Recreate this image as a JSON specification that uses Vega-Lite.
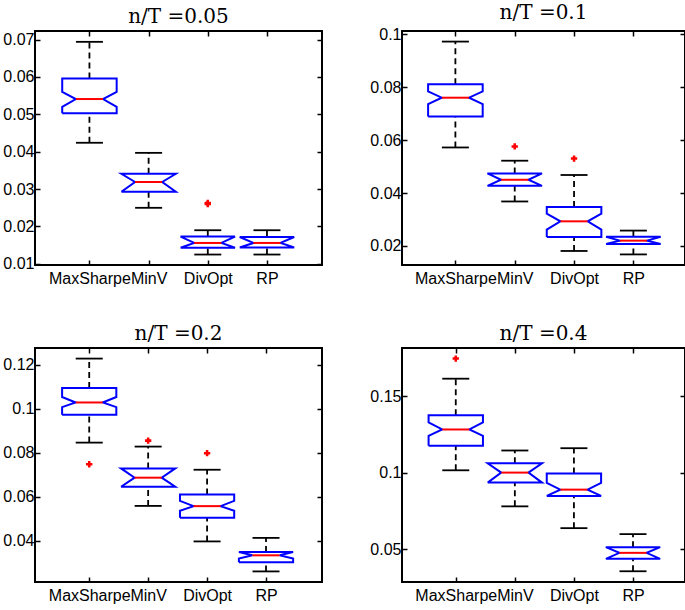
{
  "$schema": "https://vega.github.io/schema/vega-lite/v6.json",
  "background": "white",
  "padding": {"left": 1, "top": 2, "right": 0, "bottom": 0},
  "spacing": 36,
  "datasets": {
    "stats": [
      {"panel": "0.05", "method": "MaxSharpe", "lo": 0.0424, "q1": 0.0503, "nlo": 0.0520, "med": 0.0541, "nhi": 0.0560, "q3": 0.0596, "hi": 0.0694},
      {"panel": "0.05", "method": "MinV", "lo": 0.0250, "q1": 0.0293, "nlo": 0.0293, "med": 0.0319, "nhi": 0.0341, "q3": 0.0341, "hi": 0.0397},
      {"panel": "0.05", "method": "DivOpt", "lo": 0.0125, "q1": 0.0143, "nlo": 0.0143, "med": 0.0156, "nhi": 0.0173, "q3": 0.0173, "hi": 0.0190},
      {"panel": "0.05", "method": "RP", "lo": 0.0125, "q1": 0.0144, "nlo": 0.0144, "med": 0.0156, "nhi": 0.0172, "q3": 0.0172, "hi": 0.0190},
      {"panel": "0.1", "method": "MaxSharpe", "lo": 0.0572, "q1": 0.0689, "nlo": 0.0736, "med": 0.0760, "nhi": 0.0784, "q3": 0.0811, "hi": 0.0972},
      {"panel": "0.1", "method": "MinV", "lo": 0.0368, "q1": 0.0427, "nlo": 0.0427, "med": 0.0450, "nhi": 0.0474, "q3": 0.0474, "hi": 0.0522},
      {"panel": "0.1", "method": "DivOpt", "lo": 0.0181, "q1": 0.0234, "nlo": 0.0262, "med": 0.0293, "nhi": 0.0322, "q3": 0.0347, "hi": 0.0468},
      {"panel": "0.1", "method": "RP", "lo": 0.0168, "q1": 0.0207, "nlo": 0.0207, "med": 0.0220, "nhi": 0.0235, "q3": 0.0235, "hi": 0.0258},
      {"panel": "0.2", "method": "MaxSharpe", "lo": 0.0846, "q1": 0.0972, "nlo": 0.1007, "med": 0.1028, "nhi": 0.1053, "q3": 0.1094, "hi": 0.1227},
      {"panel": "0.2", "method": "MinV", "lo": 0.0559, "q1": 0.0646, "nlo": 0.0646, "med": 0.0687, "nhi": 0.0729, "q3": 0.0729, "hi": 0.0828},
      {"panel": "0.2", "method": "DivOpt", "lo": 0.0398, "q1": 0.0505, "nlo": 0.0537, "med": 0.0558, "nhi": 0.0582, "q3": 0.0611, "hi": 0.0723},
      {"panel": "0.2", "method": "RP", "lo": 0.0262, "q1": 0.0304, "nlo": 0.0320, "med": 0.0335, "nhi": 0.0350, "q3": 0.0350, "hi": 0.0414},
      {"panel": "0.4", "method": "MaxSharpe", "lo": 0.1016, "q1": 0.1176, "nlo": 0.1241, "med": 0.1282, "nhi": 0.1328, "q3": 0.1374, "hi": 0.1613},
      {"panel": "0.4", "method": "MinV", "lo": 0.0781, "q1": 0.0936, "nlo": 0.0936, "med": 0.1001, "nhi": 0.1062, "q3": 0.1062, "hi": 0.1145},
      {"panel": "0.4", "method": "DivOpt", "lo": 0.0639, "q1": 0.0849, "nlo": 0.0849, "med": 0.0890, "nhi": 0.0934, "q3": 0.0995, "hi": 0.1160},
      {"panel": "0.4", "method": "RP", "lo": 0.0358, "q1": 0.0439, "nlo": 0.0439, "med": 0.0478, "nhi": 0.0515, "q3": 0.0515, "hi": 0.0600}
    ],
    "outliers": [
      {"panel": "0.05", "method": "DivOpt", "value": 0.0260},
      {"panel": "0.05", "method": "DivOpt", "value": 0.0263},
      {"panel": "0.1", "method": "MinV", "value": 0.0576},
      {"panel": "0.1", "method": "DivOpt", "value": 0.0530},
      {"panel": "0.2", "method": "MaxSharpe", "value": 0.0748},
      {"panel": "0.2", "method": "MinV", "value": 0.0855},
      {"panel": "0.2", "method": "DivOpt", "value": 0.0798},
      {"panel": "0.4", "method": "MaxSharpe", "value": 0.1744}
    ]
  },
  "vconcat": [
    {
      "spacing": 44,
      "hconcat": [
        {
          "title": "n/T =0.05",
          "width": 287, "height": 234,
          "data": {"name": "stats"},
          "transform": [{"filter": "datum.panel === '0.05'"}, {"calculate": "indexof(['MaxSharpe','MinV','DivOpt','RP'], datum.method) + 1", "as": "pos"}],
          "resolve": {"axis": {"x": "independent", "y": "independent"}},
          "layer": [
            {"mark": {"type": "rule", "color": "black", "strokeWidth": 1.8, "strokeDash": [6, 4]},
             "encoding": {
               "x": {"field": "pos", "type": "quantitative", "scale": {"domain": [0.08, 4.93]}, "axis": {"orient": "bottom", "values": [1, 2, 3, 4], "labelExpr": "datum.value == 1 ? 'MaxSharpe' : datum.value == 2 ? 'MinV' : datum.value == 3 ? 'DivOpt' : 'RP'", "labelFlush": false, "labelOverlap": false, "labelPadding": 10}},
               "y": {"field": "q3", "type": "quantitative", "scale": {"domain": [0.0097, 0.0723]}, "axis": {"orient": "left", "values": [0.01, 0.02, 0.03, 0.04, 0.05, 0.06, 0.07], "format": "~g"}},
               "y2": {"field": "hi"}}},
            {"mark": {"type": "rule", "color": "black", "strokeWidth": 1.8, "strokeDash": [6, 4]},
             "encoding": {
               "x": {"field": "pos", "type": "quantitative", "scale": {"domain": [0.08, 4.93]}, "axis": {"orient": "top", "values": [1, 2, 3, 4], "labels": false}},
               "y": {"field": "lo", "type": "quantitative", "scale": {"domain": [0.0097, 0.0723]}, "axis": {"orient": "right", "values": [0.01, 0.02, 0.03, 0.04, 0.05, 0.06, 0.07], "labels": false}},
               "y2": {"field": "q1"}}},
            {"mark": {"type": "tick", "color": "black", "opacity": 1, "size": 27, "thickness": 1.8, "orient": "horizontal"},
             "encoding": {"x": {"field": "pos", "type": "quantitative", "scale": {"domain": [0.08, 4.93]}, "axis": null}, "y": {"field": "hi", "type": "quantitative", "scale": {"domain": [0.0097, 0.0723]}, "axis": null}}},
            {"mark": {"type": "tick", "color": "black", "opacity": 1, "size": 27, "thickness": 1.8, "orient": "horizontal"},
             "encoding": {"x": {"field": "pos", "type": "quantitative", "scale": {"domain": [0.08, 4.93]}, "axis": null}, "y": {"field": "lo", "type": "quantitative", "scale": {"domain": [0.0097, 0.0723]}, "axis": null}}},
            {"transform": [
               {"calculate": "[datum.pos-0.46, datum.pos-0.46, datum.pos-0.23, datum.pos-0.46, datum.pos-0.46, datum.pos+0.46, datum.pos+0.46, datum.pos+0.23, datum.pos+0.46, datum.pos+0.46, datum.pos-0.46]", "as": "vx"},
               {"calculate": "[datum.q1, datum.nlo, datum.med, datum.nhi, datum.q3, datum.q3, datum.nhi, datum.med, datum.nlo, datum.q1, datum.q1]", "as": "vy"},
               {"calculate": "[0,1,2,3,4,5,6,7,8,9,10]", "as": "vi"},
               {"flatten": ["vx", "vy", "vi"]}],
             "mark": {"type": "line", "color": "#0000ff", "strokeWidth": 2, "strokeJoin": "miter"},
             "encoding": {"x": {"field": "vx", "type": "quantitative", "scale": {"domain": [0.08, 4.93]}, "axis": null}, "y": {"field": "vy", "type": "quantitative", "scale": {"domain": [0.0097, 0.0723]}, "axis": null}, "order": {"field": "vi"}, "detail": {"field": "method"}}},
            {"mark": {"type": "tick", "color": "#ff0000", "opacity": 1, "size": 27, "thickness": 2, "orient": "horizontal"},
             "encoding": {"x": {"field": "pos", "type": "quantitative", "scale": {"domain": [0.08, 4.93]}, "axis": null}, "y": {"field": "med", "type": "quantitative", "scale": {"domain": [0.0097, 0.0723]}, "axis": null}}},
            {"data": {"name": "outliers"},
             "transform": [{"filter": "datum.panel === '0.05'"}, {"calculate": "indexof(['MaxSharpe','MinV','DivOpt','RP'], datum.method) + 1", "as": "pos"}],
             "mark": {"type": "point", "shape": "cross", "filled": true, "color": "#ff0000", "size": 40, "opacity": 1},
             "encoding": {"x": {"field": "pos", "type": "quantitative", "scale": {"domain": [0.08, 4.93]}, "axis": null}, "y": {"field": "value", "type": "quantitative", "scale": {"domain": [0.0097, 0.0723]}, "axis": null}}}
          ]
        },
        {
          "title": "n/T =0.1",
          "width": 283, "height": 234,
          "data": {"name": "stats"},
          "transform": [{"filter": "datum.panel === '0.1'"}, {"calculate": "indexof(['MaxSharpe','MinV','DivOpt','RP'], datum.method) + 1", "as": "pos"}],
          "resolve": {"axis": {"x": "independent", "y": "independent"}},
          "layer": [
            {"mark": {"type": "rule", "color": "black", "strokeWidth": 1.8, "strokeDash": [6, 4]},
             "encoding": {
               "x": {"field": "pos", "type": "quantitative", "scale": {"domain": [0.1, 4.87]}, "axis": {"orient": "bottom", "values": [1, 2, 3, 4], "labelExpr": "datum.value == 1 ? 'MaxSharpe' : datum.value == 2 ? 'MinV' : datum.value == 3 ? 'DivOpt' : 'RP'", "labelFlush": false, "labelOverlap": false, "labelPadding": 10}},
               "y": {"field": "q3", "type": "quantitative", "scale": {"domain": [0.0128, 0.1012]}, "axis": {"orient": "left", "values": [0.02, 0.04, 0.06, 0.08, 0.1], "format": "~g"}},
               "y2": {"field": "hi"}}},
            {"mark": {"type": "rule", "color": "black", "strokeWidth": 1.8, "strokeDash": [6, 4]},
             "encoding": {
               "x": {"field": "pos", "type": "quantitative", "scale": {"domain": [0.1, 4.87]}, "axis": {"orient": "top", "values": [1, 2, 3, 4], "labels": false}},
               "y": {"field": "lo", "type": "quantitative", "scale": {"domain": [0.0128, 0.1012]}, "axis": {"orient": "right", "values": [0.02, 0.04, 0.06, 0.08, 0.1], "labels": false}},
               "y2": {"field": "q1"}}},
            {"mark": {"type": "tick", "color": "black", "opacity": 1, "size": 27, "thickness": 1.8, "orient": "horizontal"},
             "encoding": {"x": {"field": "pos", "type": "quantitative", "scale": {"domain": [0.1, 4.87]}, "axis": null}, "y": {"field": "hi", "type": "quantitative", "scale": {"domain": [0.0128, 0.1012]}, "axis": null}}},
            {"mark": {"type": "tick", "color": "black", "opacity": 1, "size": 27, "thickness": 1.8, "orient": "horizontal"},
             "encoding": {"x": {"field": "pos", "type": "quantitative", "scale": {"domain": [0.1, 4.87]}, "axis": null}, "y": {"field": "lo", "type": "quantitative", "scale": {"domain": [0.0128, 0.1012]}, "axis": null}}},
            {"transform": [
               {"calculate": "[datum.pos-0.46, datum.pos-0.46, datum.pos-0.23, datum.pos-0.46, datum.pos-0.46, datum.pos+0.46, datum.pos+0.46, datum.pos+0.23, datum.pos+0.46, datum.pos+0.46, datum.pos-0.46]", "as": "vx"},
               {"calculate": "[datum.q1, datum.nlo, datum.med, datum.nhi, datum.q3, datum.q3, datum.nhi, datum.med, datum.nlo, datum.q1, datum.q1]", "as": "vy"},
               {"calculate": "[0,1,2,3,4,5,6,7,8,9,10]", "as": "vi"},
               {"flatten": ["vx", "vy", "vi"]}],
             "mark": {"type": "line", "color": "#0000ff", "strokeWidth": 2, "strokeJoin": "miter"},
             "encoding": {"x": {"field": "vx", "type": "quantitative", "scale": {"domain": [0.1, 4.87]}, "axis": null}, "y": {"field": "vy", "type": "quantitative", "scale": {"domain": [0.0128, 0.1012]}, "axis": null}, "order": {"field": "vi"}, "detail": {"field": "method"}}},
            {"mark": {"type": "tick", "color": "#ff0000", "opacity": 1, "size": 27, "thickness": 2, "orient": "horizontal"},
             "encoding": {"x": {"field": "pos", "type": "quantitative", "scale": {"domain": [0.1, 4.87]}, "axis": null}, "y": {"field": "med", "type": "quantitative", "scale": {"domain": [0.0128, 0.1012]}, "axis": null}}},
            {"data": {"name": "outliers"},
             "transform": [{"filter": "datum.panel === '0.1'"}, {"calculate": "indexof(['MaxSharpe','MinV','DivOpt','RP'], datum.method) + 1", "as": "pos"}],
             "mark": {"type": "point", "shape": "cross", "filled": true, "color": "#ff0000", "size": 40, "opacity": 1},
             "encoding": {"x": {"field": "pos", "type": "quantitative", "scale": {"domain": [0.1, 4.87]}, "axis": null}, "y": {"field": "value", "type": "quantitative", "scale": {"domain": [0.0128, 0.1012]}, "axis": null}}}
          ]
        }
      ]
    },
    {
      "spacing": 44,
      "hconcat": [
        {
          "title": "n/T =0.2",
          "width": 287, "height": 234,
          "data": {"name": "stats"},
          "transform": [{"filter": "datum.panel === '0.2'"}, {"calculate": "indexof(['MaxSharpe','MinV','DivOpt','RP'], datum.method) + 1", "as": "pos"}],
          "resolve": {"axis": {"x": "independent", "y": "independent"}},
          "layer": [
            {"mark": {"type": "rule", "color": "black", "strokeWidth": 1.8, "strokeDash": [6, 4]},
             "encoding": {
               "x": {"field": "pos", "type": "quantitative", "scale": {"domain": [0.08, 4.95]}, "axis": {"orient": "bottom", "values": [1, 2, 3, 4], "labelExpr": "datum.value == 1 ? 'MaxSharpe' : datum.value == 2 ? 'MinV' : datum.value == 3 ? 'DivOpt' : 'RP'", "labelFlush": false, "labelOverlap": false, "labelPadding": 10}},
               "y": {"field": "q3", "type": "quantitative", "scale": {"domain": [0.0214, 0.1275]}, "axis": {"orient": "left", "values": [0.04, 0.06, 0.08, 0.1, 0.12], "format": "~g"}},
               "y2": {"field": "hi"}}},
            {"mark": {"type": "rule", "color": "black", "strokeWidth": 1.8, "strokeDash": [6, 4]},
             "encoding": {
               "x": {"field": "pos", "type": "quantitative", "scale": {"domain": [0.08, 4.95]}, "axis": {"orient": "top", "values": [1, 2, 3, 4], "labels": false}},
               "y": {"field": "lo", "type": "quantitative", "scale": {"domain": [0.0214, 0.1275]}, "axis": {"orient": "right", "values": [0.04, 0.06, 0.08, 0.1, 0.12], "labels": false}},
               "y2": {"field": "q1"}}},
            {"mark": {"type": "tick", "color": "black", "opacity": 1, "size": 27, "thickness": 1.8, "orient": "horizontal"},
             "encoding": {"x": {"field": "pos", "type": "quantitative", "scale": {"domain": [0.08, 4.95]}, "axis": null}, "y": {"field": "hi", "type": "quantitative", "scale": {"domain": [0.0214, 0.1275]}, "axis": null}}},
            {"mark": {"type": "tick", "color": "black", "opacity": 1, "size": 27, "thickness": 1.8, "orient": "horizontal"},
             "encoding": {"x": {"field": "pos", "type": "quantitative", "scale": {"domain": [0.08, 4.95]}, "axis": null}, "y": {"field": "lo", "type": "quantitative", "scale": {"domain": [0.0214, 0.1275]}, "axis": null}}},
            {"transform": [
               {"calculate": "[datum.pos-0.46, datum.pos-0.46, datum.pos-0.23, datum.pos-0.46, datum.pos-0.46, datum.pos+0.46, datum.pos+0.46, datum.pos+0.23, datum.pos+0.46, datum.pos+0.46, datum.pos-0.46]", "as": "vx"},
               {"calculate": "[datum.q1, datum.nlo, datum.med, datum.nhi, datum.q3, datum.q3, datum.nhi, datum.med, datum.nlo, datum.q1, datum.q1]", "as": "vy"},
               {"calculate": "[0,1,2,3,4,5,6,7,8,9,10]", "as": "vi"},
               {"flatten": ["vx", "vy", "vi"]}],
             "mark": {"type": "line", "color": "#0000ff", "strokeWidth": 2, "strokeJoin": "miter"},
             "encoding": {"x": {"field": "vx", "type": "quantitative", "scale": {"domain": [0.08, 4.95]}, "axis": null}, "y": {"field": "vy", "type": "quantitative", "scale": {"domain": [0.0214, 0.1275]}, "axis": null}, "order": {"field": "vi"}, "detail": {"field": "method"}}},
            {"mark": {"type": "tick", "color": "#ff0000", "opacity": 1, "size": 27, "thickness": 2, "orient": "horizontal"},
             "encoding": {"x": {"field": "pos", "type": "quantitative", "scale": {"domain": [0.08, 4.95]}, "axis": null}, "y": {"field": "med", "type": "quantitative", "scale": {"domain": [0.0214, 0.1275]}, "axis": null}}},
            {"data": {"name": "outliers"},
             "transform": [{"filter": "datum.panel === '0.2'"}, {"calculate": "indexof(['MaxSharpe','MinV','DivOpt','RP'], datum.method) + 1", "as": "pos"}],
             "mark": {"type": "point", "shape": "cross", "filled": true, "color": "#ff0000", "size": 40, "opacity": 1},
             "encoding": {"x": {"field": "pos", "type": "quantitative", "scale": {"domain": [0.08, 4.95]}, "axis": null}, "y": {"field": "value", "type": "quantitative", "scale": {"domain": [0.0214, 0.1275]}, "axis": null}}}
          ]
        },
        {
          "title": "n/T =0.4",
          "width": 283, "height": 234,
          "data": {"name": "stats"},
          "transform": [{"filter": "datum.panel === '0.4'"}, {"calculate": "indexof(['MaxSharpe','MinV','DivOpt','RP'], datum.method) + 1", "as": "pos"}],
          "resolve": {"axis": {"x": "independent", "y": "independent"}},
          "layer": [
            {"mark": {"type": "rule", "color": "black", "strokeWidth": 1.8, "strokeDash": [6, 4]},
             "encoding": {
               "x": {"field": "pos", "type": "quantitative", "scale": {"domain": [0.09, 4.88]}, "axis": {"orient": "bottom", "values": [1, 2, 3, 4], "labelExpr": "datum.value == 1 ? 'MaxSharpe' : datum.value == 2 ? 'MinV' : datum.value == 3 ? 'DivOpt' : 'RP'", "labelFlush": false, "labelOverlap": false, "labelPadding": 10}},
               "y": {"field": "q3", "type": "quantitative", "scale": {"domain": [0.0288, 0.1813]}, "axis": {"orient": "left", "values": [0.05, 0.1, 0.15], "format": "~g"}},
               "y2": {"field": "hi"}}},
            {"mark": {"type": "rule", "color": "black", "strokeWidth": 1.8, "strokeDash": [6, 4]},
             "encoding": {
               "x": {"field": "pos", "type": "quantitative", "scale": {"domain": [0.09, 4.88]}, "axis": {"orient": "top", "values": [1, 2, 3, 4], "labels": false}},
               "y": {"field": "lo", "type": "quantitative", "scale": {"domain": [0.0288, 0.1813]}, "axis": {"orient": "right", "values": [0.05, 0.1, 0.15], "labels": false}},
               "y2": {"field": "q1"}}},
            {"mark": {"type": "tick", "color": "black", "opacity": 1, "size": 27, "thickness": 1.8, "orient": "horizontal"},
             "encoding": {"x": {"field": "pos", "type": "quantitative", "scale": {"domain": [0.09, 4.88]}, "axis": null}, "y": {"field": "hi", "type": "quantitative", "scale": {"domain": [0.0288, 0.1813]}, "axis": null}}},
            {"mark": {"type": "tick", "color": "black", "opacity": 1, "size": 27, "thickness": 1.8, "orient": "horizontal"},
             "encoding": {"x": {"field": "pos", "type": "quantitative", "scale": {"domain": [0.09, 4.88]}, "axis": null}, "y": {"field": "lo", "type": "quantitative", "scale": {"domain": [0.0288, 0.1813]}, "axis": null}}},
            {"transform": [
               {"calculate": "[datum.pos-0.46, datum.pos-0.46, datum.pos-0.23, datum.pos-0.46, datum.pos-0.46, datum.pos+0.46, datum.pos+0.46, datum.pos+0.23, datum.pos+0.46, datum.pos+0.46, datum.pos-0.46]", "as": "vx"},
               {"calculate": "[datum.q1, datum.nlo, datum.med, datum.nhi, datum.q3, datum.q3, datum.nhi, datum.med, datum.nlo, datum.q1, datum.q1]", "as": "vy"},
               {"calculate": "[0,1,2,3,4,5,6,7,8,9,10]", "as": "vi"},
               {"flatten": ["vx", "vy", "vi"]}],
             "mark": {"type": "line", "color": "#0000ff", "strokeWidth": 2, "strokeJoin": "miter"},
             "encoding": {"x": {"field": "vx", "type": "quantitative", "scale": {"domain": [0.09, 4.88]}, "axis": null}, "y": {"field": "vy", "type": "quantitative", "scale": {"domain": [0.0288, 0.1813]}, "axis": null}, "order": {"field": "vi"}, "detail": {"field": "method"}}},
            {"mark": {"type": "tick", "color": "#ff0000", "opacity": 1, "size": 27, "thickness": 2, "orient": "horizontal"},
             "encoding": {"x": {"field": "pos", "type": "quantitative", "scale": {"domain": [0.09, 4.88]}, "axis": null}, "y": {"field": "med", "type": "quantitative", "scale": {"domain": [0.0288, 0.1813]}, "axis": null}}},
            {"data": {"name": "outliers"},
             "transform": [{"filter": "datum.panel === '0.4'"}, {"calculate": "indexof(['MaxSharpe','MinV','DivOpt','RP'], datum.method) + 1", "as": "pos"}],
             "mark": {"type": "point", "shape": "cross", "filled": true, "color": "#ff0000", "size": 40, "opacity": 1},
             "encoding": {"x": {"field": "pos", "type": "quantitative", "scale": {"domain": [0.09, 4.88]}, "axis": null}, "y": {"field": "value", "type": "quantitative", "scale": {"domain": [0.0288, 0.1813]}, "axis": null}}}
          ]
        }
      ]
    }
  ],
  "config": {
    "view": {"stroke": "black", "strokeWidth": 2},
    "axis": {"grid": false, "domain": false, "title": null, "labelFont": "Liberation Sans", "labelFontSize": 16, "labelColor": "black", "tickColor": "black", "tickSize": -5, "tickWidth": 1.5, "labelPadding": 6},
    "title": {"font": "DejaVu Serif", "fontSize": 20, "fontWeight": "normal", "color": "black", "offset": 3}
  }
}
